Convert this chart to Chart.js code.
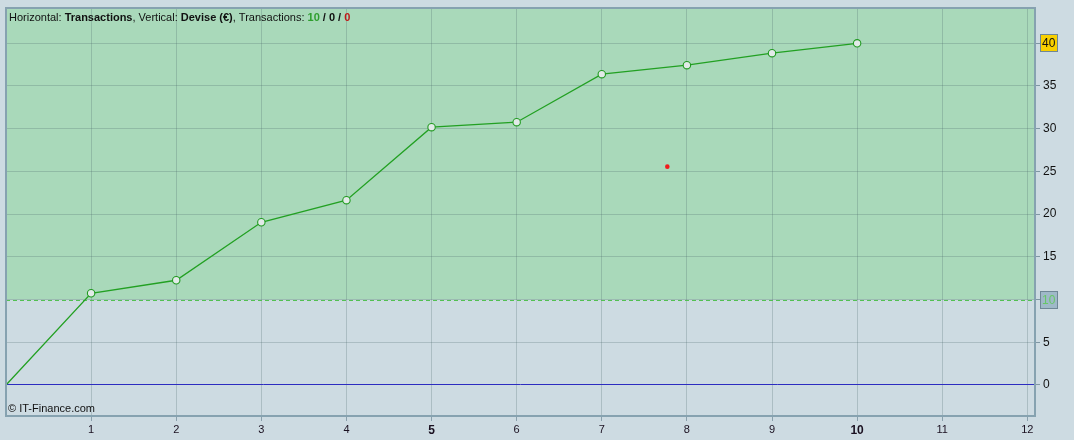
<!DOCTYPE html>
<html>
<head>
<meta charset="utf-8">
<script src="https://cdn.jsdelivr.net/npm/chart.js@4/dist/chart.umd.min.js"></script>
<style>
  body { margin: 0; background: #cddbe2; }
  canvas { display: block; }
</style>
</head>
<body>
<canvas id="Equity" width="1074" height="440"></canvas>
<script>
// transactions (x) and cumulative currency (y)
const Transactions = [0, 1, 2, 3, 4, 5, 6, 7, 8, 9, 10];
const Devise = [0, 10.74, 12.26, 19.05, 21.63, 30.18, 30.76, 36.38, 37.44, 38.84, 40.0];
const MarkerX = [7.77];
const MarkerY = [25.56];
const XTicks = [1, 2, 3, 4, 5, 6, 7, 8, 9, 10, 11, 12];
const YTicks = [0, 5, 10, 15, 20, 25, 30, 35, 40];
const Threshold = 10;
const LastValue = 40;

const font = "'Liberation Sans', Arial, sans-serif";

const bgPlugin = {
  id: "bgPlugin",
  beforeDraw(chart) {
    const c = chart.ctx, a = chart.chartArea, y = chart.scales.y;
    c.save();
    c.fillStyle = "#cddbe2";
    c.fillRect(0, 0, chart.width, chart.height);
    const yt = y.getPixelForValue(Threshold);
    c.fillStyle = "#a9d9ba";
    c.fillRect(a.left, a.top, a.right - a.left, yt - a.top);
    c.restore();
  },
  beforeDatasetsDraw(chart) {
    const c = chart.ctx, a = chart.chartArea, y = chart.scales.y;
    const yt = Math.round(y.getPixelForValue(Threshold)) + 0.5;
    c.save();
    c.strokeStyle = "#52c052";
    c.lineWidth = 1;
    c.setLineDash([4, 3]);
    c.beginPath();
    c.moveTo(a.left, yt);
    c.lineTo(a.right, yt);
    c.stroke();
    c.restore();
  },
  afterDraw(chart) {
    const c = chart.ctx, a = chart.chartArea, y = chart.scales.y;
    c.save();
    // frame
    c.strokeStyle = "#86a2b0";
    c.lineWidth = 2;
    c.strokeRect(a.left, a.top, a.right - a.left, a.bottom - a.top);

    // header text
    const parts = [
      ["Horizontal: ", "normal", "#111"],
      ["Transactions", "bold", "#111"],
      [", Vertical: ", "normal", "#111"],
      ["Devise (€)", "bold", "#111"],
      [", Transactions: ", "normal", "#111"],
      ["10", "bold", "#2e9e2e"],
      [" / ", "bold", "#111"],
      ["0", "bold", "#111"],
      [" / ", "bold", "#111"],
      ["0", "bold", "#c01818"]
    ];
    let x = a.left + 3;
    c.textBaseline = "alphabetic";
    parts.forEach(p => {
      c.font = p[1] + " 11px " + font;
      c.fillStyle = p[2];
      c.fillText(p[0], x, a.top + 13);
      x += c.measureText(p[0]).width;
    });
    c.font = "11px " + font;
    c.fillStyle = "#111";
    c.fillText("© IT-Finance.com", a.left + 2, a.bottom - 4);

    // boxed labels on the right axis
    [[LastValue, "#f8d000", "#111"], [Threshold, "#9fb9c8", "#66c866"]].forEach(b => {
      const py = Math.round(y.getPixelForValue(b[0]));
      c.fillStyle = b[1];
      c.fillRect(1040.5, py - 8.5, 17, 17);
      c.strokeStyle = "#6f8796";
      c.lineWidth = 1;
      c.strokeRect(1040.5, py - 8.5, 17, 17);
      c.fillStyle = b[2];
      c.font = "12px " + font;
      c.textBaseline = "middle";
      c.textAlign = "left";
      c.fillText(String(b[0]), 1042, py + 1);
    });
    c.restore();
  }
};

const ctx = document.getElementById("Equity").getContext("2d");
const Equity = new Chart(ctx, {
  type: "scatter",
  data: {
    datasets: [
      {
        label: "Devise",
        data: Transactions.map((t, i) => ({ x: t, y: Devise[i] })),
        showLine: true,
        borderColor: "#22a022",
        borderWidth: 1.3,
        backgroundColor: "#e2eae8",
        pointBorderColor: "#1f9a1f",
        pointBorderWidth: 1.1,
        pointRadius: c => (c.dataIndex === 0 ? 0 : 3.7),
        tension: 0
      },
      {
        label: "Marker",
        data: MarkerX.map((t, i) => ({ x: t, y: MarkerY[i] })),
        backgroundColor: "#f01c1c",
        borderWidth: 0,
        pointRadius: 2.3
      }
    ]
  },
  options: {
    responsive: false,
    animation: false,
    layout: { padding: { left: 6, top: 8, right: 0, bottom: 0 } },
    plugins: { legend: { display: false }, tooltip: { enabled: false } },
    scales: {
      x: {
        type: "linear",
        min: 0,
        max: 12.09,
        afterBuildTicks: s => { s.ticks = XTicks.map(v => ({ value: v })); },
        afterFit: s => { s.height = 24; s.paddingLeft = 0; s.paddingRight = 0; },
        border: { display: false },
        grid: { color: "rgba(70,100,105,0.25)", tickColor: "#8aa0ac", tickLength: 5 },
        ticks: {
          padding: 2,
          color: "#1a1020",
          font: c => (c.tick && c.tick.value % 5 === 0)
            ? { family: font, size: 12, weight: "bold" }
            : { family: font, size: 11 }
        }
      },
      y: {
        position: "right",
        min: -3.63,
        max: 44.13,
        afterBuildTicks: s => { s.ticks = YTicks.map(v => ({ value: v })); },
        afterFit: s => { s.width = 39; s.paddingTop = 0; s.paddingBottom = 0; },
        border: { display: false },
        grid: {
          color: c => (c.tick && c.tick.value === 0) ? "#2c2cc0" : "rgba(70,100,105,0.25)",
          tickColor: "#7f96a3",
          tickLength: 5
        },
        ticks: {
          padding: 3,
          color: "#111",
          font: { family: font, size: 12 }
        }
      }
    }
  },
  plugins: [bgPlugin]
});
</script>
</body>
</html>
